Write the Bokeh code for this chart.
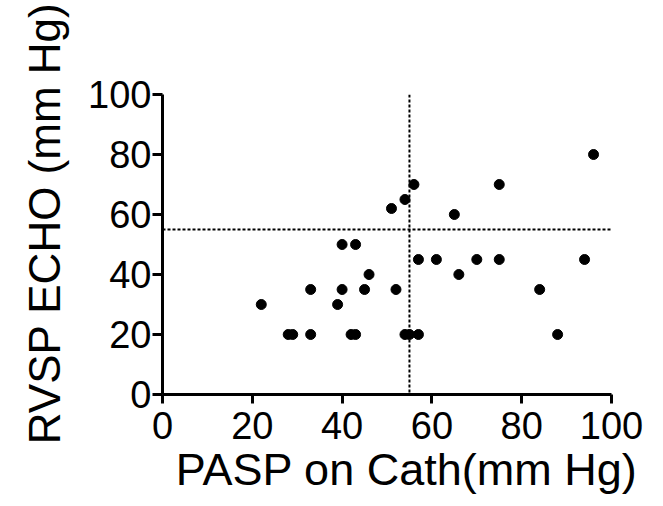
from bokeh.plotting import figure
from bokeh.models import Range1d, Span, FixedTicker, ColumnDataSource, Title
from bokeh.embed import file_html
from bokeh.resources import INLINE

# Data
pasp_cath = [22, 28, 29, 33, 33, 39, 40, 40, 43, 42, 43, 45, 46, 51, 52, 54, 56,
             54, 55, 57, 57, 61, 65, 66, 70, 75, 75, 84, 88, 94, 96]
rvsp_echo = [30, 20, 20, 20, 35, 30, 35, 50, 50, 20, 20, 35, 40, 62, 35, 65, 70,
             20, 20, 20, 45, 45, 60, 40, 45, 45, 70, 35, 20, 45, 80]
cutoff_x = 55
cutoff_y = 55
ticks = [0, 20, 40, 60, 80, 100]
x_label = "PASP on Cath(mm Hg)"
y_label = "RVSP ECHO (mm Hg)"

src = ColumnDataSource(dict(x=pasp_cath, y=rvsp_echo))

p = figure(frame_width=449, frame_height=300, output_backend="svg",
           toolbar_location=None,
           x_range=Range1d(0, 100), y_range=Range1d(0, 100),
           min_border_left=162, min_border_top=94, min_border_right=40,
           min_border_bottom=100)
p.outline_line_color = None
p.xgrid.visible = False
p.ygrid.visible = False
p.background_fill_color = "white"
p.border_fill_color = "white"

p.add_layout(Span(location=cutoff_x, dimension="height", line_color="black",
                  line_width=2, line_dash="3 2"))
p.add_layout(Span(location=cutoff_y, dimension="width", line_color="black",
                  line_width=2, line_dash="3 2"))

p.scatter("x", "y", source=src, size=10, color="black")

for ax in (p.xaxis[0], p.yaxis[0]):
    ax.ticker = FixedTicker(ticks=ticks)
    ax.axis_line_width = 3
    ax.axis_line_color = "black"
    ax.major_tick_line_width = 3
    ax.major_tick_line_color = "black"
    ax.major_tick_in = 0
    ax.minor_tick_line_color = None
    ax.major_label_text_font = "Liberation Sans"
    ax.major_label_text_font_size = "38px"
    ax.major_label_text_color = "black"

p.xaxis.major_tick_out = 9
p.yaxis.major_tick_out = 10
p.xaxis.major_label_standoff = 8
p.yaxis.major_label_standoff = 1

xtitle = Title(text=x_label, align="right", offset=-26,
               text_font="Liberation Sans", text_font_size="45px",
               text_font_style="normal", text_color="black", standoff=1)
ytitle = Title(text=y_label, align="right", offset=-92,
               text_font="Liberation Sans", text_font_size="44px",
               text_font_style="normal", text_color="black", standoff=33)
p.add_layout(xtitle, "below")
p.add_layout(ytitle, "left")

open("out.html", "w").write(file_html(p, INLINE))
